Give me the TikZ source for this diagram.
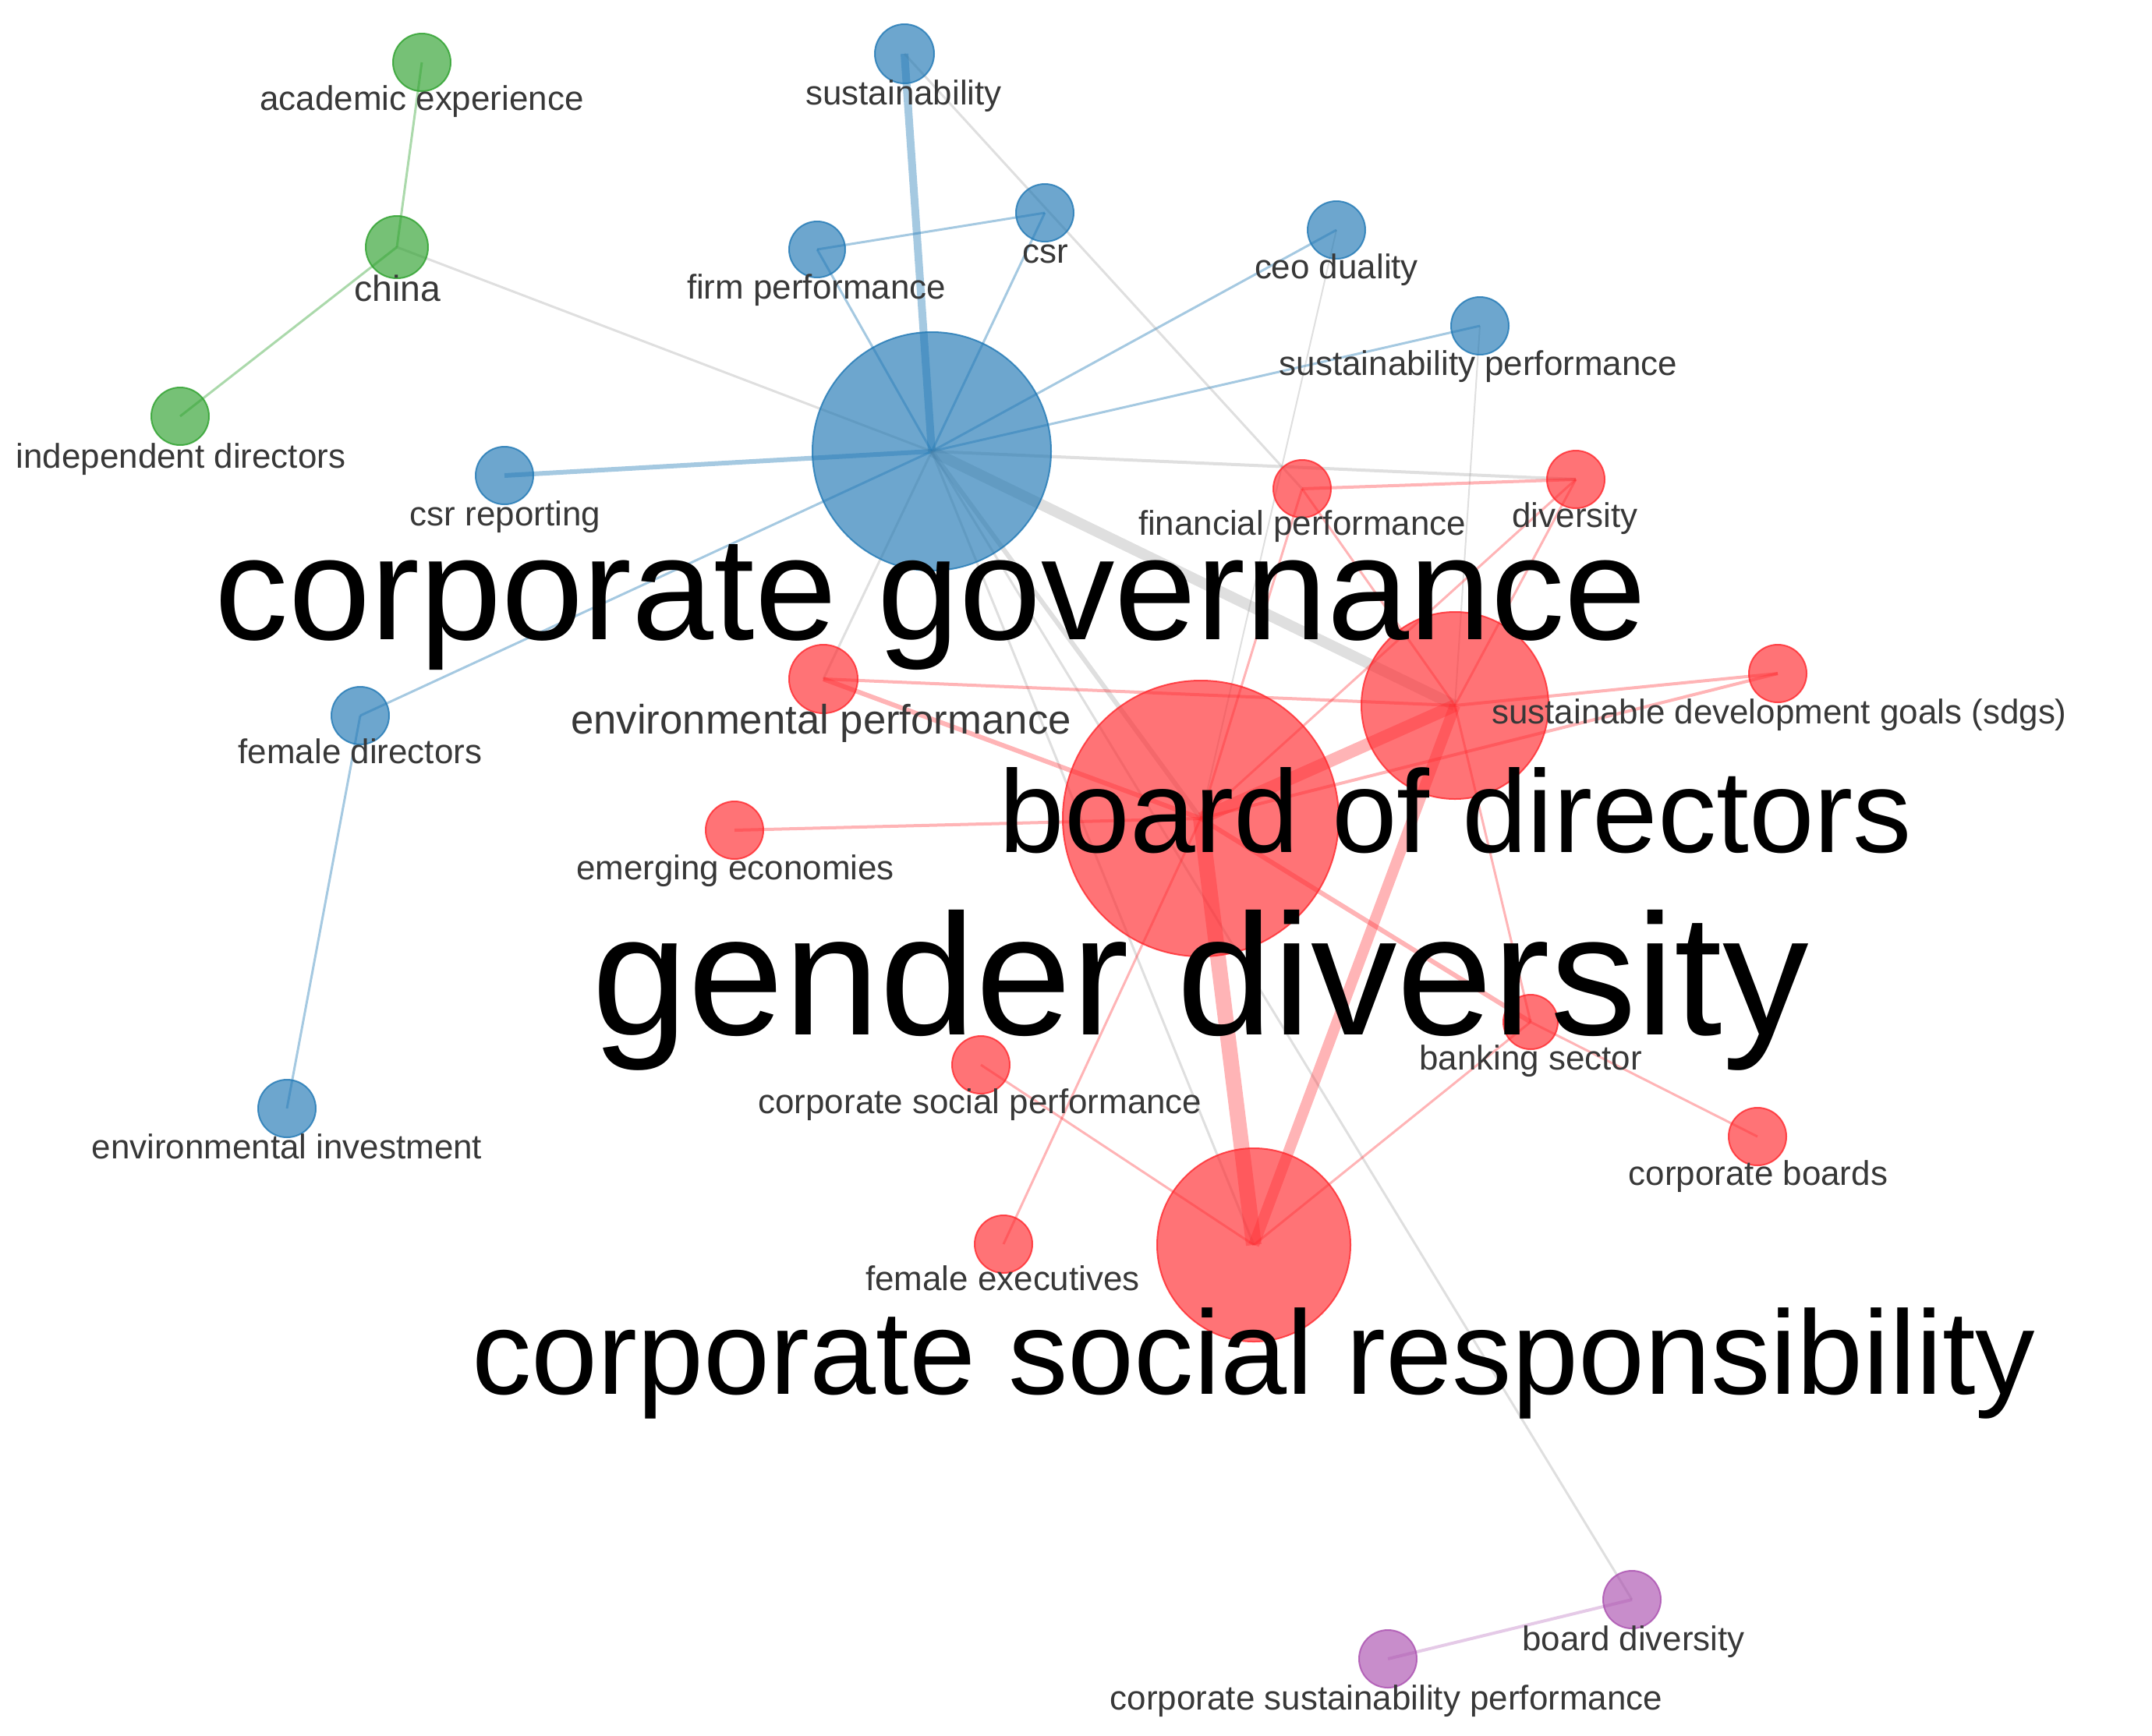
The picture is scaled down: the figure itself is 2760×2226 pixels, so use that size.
\documentclass[tikz,border=0pt]{standalone}
\usepackage{fontspec}
\setmainfont{Liberation Sans}
\usetikzlibrary{backgrounds}
\definecolor{kwblue}{RGB}{31,119,180}
\definecolor{kwred}{RGB}{255,40,45}
\definecolor{kwgreen}{RGB}{44,160,44}
\definecolor{kwpurple}{RGB}{170,80,175}
\definecolor{linkgray}{RGB}{150,150,150}
\tikzstyle{every node}+=[inner sep=0pt]
\tikzstyle{kw}=[circle,minimum size=7.4mm,fill opacity=0.65,draw opacity=0.8,line width=0.2mm]
\tikzstyle{bluekw}=[kw,fill=kwblue,draw=kwblue]
\tikzstyle{redkw}=[kw,fill=kwred,draw=kwred]
\tikzstyle{greenkw}=[kw,fill=kwgreen,draw=kwgreen]
\tikzstyle{purplekw}=[kw,fill=kwpurple,draw=kwpurple]
\tikzstyle{lbl}=[anchor=base,text=black!78,font=\fontsize{12.5}{14}\selectfont]
\tikzstyle{biglbl}=[anchor=base,text=black]
\tikzstyle{bluelink}=[draw=kwblue,draw opacity=0.4,line width=0.3mm]
\tikzstyle{redlink}=[draw=kwred,draw opacity=0.35,line width=0.3mm]
\tikzstyle{greenlink}=[draw=kwgreen,draw opacity=0.4,line width=0.3mm]
\tikzstyle{purplelink}=[draw=kwpurple,draw opacity=0.3,line width=0.3mm]
\tikzstyle{graylink}=[draw=linkgray,draw opacity=0.3,line width=0.3mm]
\newcommand{\drawlinks}[2][graylink]{
	\foreach \a/\b in {#2}{
		\draw[#1] (\a.center) -- (\b.center);
	}
}

\begin{document}
\begin{tikzpicture}[x=0.1mm,y=-0.1mm]
	\useasboundingbox (0,0) rectangle (2760,2226);
	% keywords
	\node[greenkw] (acad) at (541,80) {};
	\node[greenkw,minimum size=8mm] (china) at (509,317) {};
	\node[greenkw] (indep) at (231,534) {};
	\node[bluekw,minimum size=7.6mm] (sust) at (1160,69) {};
	\node[bluekw] (csrk) at (1340,273) {};
	\node[bluekw,minimum size=7.2mm] (firm) at (1048,320) {};
	\node[bluekw] (ceo) at (1714,295) {};
	\node[bluekw] (sperf) at (1898,418) {};
	\node[bluekw,minimum size=30.6mm] (cg) at (1195,579) {};
	\node[bluekw] (csrrep) at (647,610) {};
	\node[bluekw] (fdir) at (462,918) {};
	\node[bluekw] (envinv) at (368,1422) {};
	\node[redkw] (fperf) at (1670,627) {};
	\node[redkw] (div) at (2021,615) {};
	\node[redkw,minimum size=8.8mm] (envp) at (1056,871) {};
	\node[redkw,minimum size=24mm] (bod) at (1866,905) {};
	\node[redkw] (sdgs) at (2280,864) {};
	\node[redkw,minimum size=35.4mm] (gd) at (1540,1050) {};
	\node[redkw] (emerg) at (942,1065) {};
	\node[redkw,minimum size=7mm] (bank) at (1963,1311) {};
	\node[redkw] (csp) at (1258,1366) {};
	\node[redkw] (cboard) at (2254,1458) {};
	\node[redkw] (fexec) at (1287,1596) {};
	\node[redkw,minimum size=24.8mm] (csr) at (1608,1597) {};
	\node[purplekw] (bdiv) at (2093,2052) {};
	\node[purplekw] (csusp) at (1780,2128) {};

	% links
	\begin{scope}[on background layer]
		\drawlinks[bluelink,line width=1mm]{cg/sust}
		\drawlinks[bluelink,line width=0.6mm]{cg/csrrep}
		\drawlinks[bluelink]{cg/firm,cg/csrk,cg/ceo,cg/sperf,cg/fdir,firm/csrk,fdir/envinv}
		\drawlinks[greenlink]{acad/china,china/indep}
		\drawlinks[purplelink,line width=0.4mm]{bdiv/csusp}
		\drawlinks[graylink,line width=1.4mm]{cg/bod}
		\drawlinks[graylink,line width=0.6mm]{cg/gd}
		\drawlinks[graylink,line width=0.4mm]{cg/div}
		\drawlinks{china/cg,sust/fperf,cg/csr,cg/envp,cg/bdiv}
		\drawlinks[graylink,line width=0.2mm]{ceo/gd,sperf/bod}
		\drawlinks[redlink,line width=2mm]{gd/csr}
		\drawlinks[redlink,line width=1.6mm]{gd/bod}
		\drawlinks[redlink,line width=1.4mm]{bod/csr}
		\drawlinks[redlink,line width=0.6mm]{envp/gd,gd/bank}
		\drawlinks[redlink,line width=0.4mm]{fperf/div,envp/bod,sdgs/bod,sdgs/gd,emerg/gd}
		\drawlinks[redlink]{fperf/gd,fperf/bod,div/gd,div/bod,bod/bank,bank/cboard,csr/bank,csr/csp,gd/fexec}
	\end{scope}

	% small labels
	\node[lbl] (acad-l) at (541,141) {academic experience};
	\node[lbl,font=\fontsize{13.2}{15}\selectfont] (china-l) at (510,386) {china};
	\node[lbl] (indep-l) at (232,600) {independent directors};
	\node[lbl] (sust-l) at (1159,134) {sustainability};
	\node[lbl] (csrk-l) at (1341,337) {csr};
	\node[lbl] (firm-l) at (1047,383) {firm performance};
	\node[lbl] (ceo-l) at (1714,357) {ceo duality};
	\node[lbl] (sperf-l) at (1896,481) {sustainability performance};
	\node[lbl] (csrrep-l) at (648,674) {csr reporting};
	\node[lbl] (fperf-l) at (1670,686) {financial performance};
	\node[lbl] (div-l) at (2020,676) {diversity};
	\node[lbl,font=\fontsize{15}{17}\selectfont] (envp-l) at (1053,941) {environmental performance};
	\node[lbl] (sdgs-l) at (2282,928) {sustainable development goals (sdgs)};
	\node[lbl] (fdir-l) at (462,979) {female directors};
	\node[lbl] (emerg-l) at (943,1128) {emerging economies};
	\node[lbl] (bank-l) at (1963,1372) {banking sector};
	\node[lbl] (csp-l) at (1257,1428) {corporate social performance};
	\node[lbl] (envinv-l) at (368,1486) {environmental investment};
	\node[lbl] (cboard-l) at (2255,1520) {corporate boards};
	\node[lbl] (fexec-l) at (1286,1655) {female executives};
	\node[lbl] (bdiv-l) at (2095,2117) {board diversity};
	\node[lbl] (csusp-l) at (1778,2193) {corporate sustainability performance};

	% main labels
	\node[biglbl,font=\fontsize{53.7}{60}\selectfont] (cg-l) at (1194,820) {corporate governance};
	\node[biglbl,font=\fontsize{42.8}{48}\selectfont] (bod-l) at (1867,1093) {board of directors};
	\node[biglbl,font=\fontsize{62.9}{70}\selectfont] (gd-l) at (1540,1327) {gender diversity};
	\node[biglbl,font=\fontsize{43.5}{48}\selectfont] (csr-l) at (1608,1788) {corporate social responsibility};
\end{tikzpicture}
\end{document}
